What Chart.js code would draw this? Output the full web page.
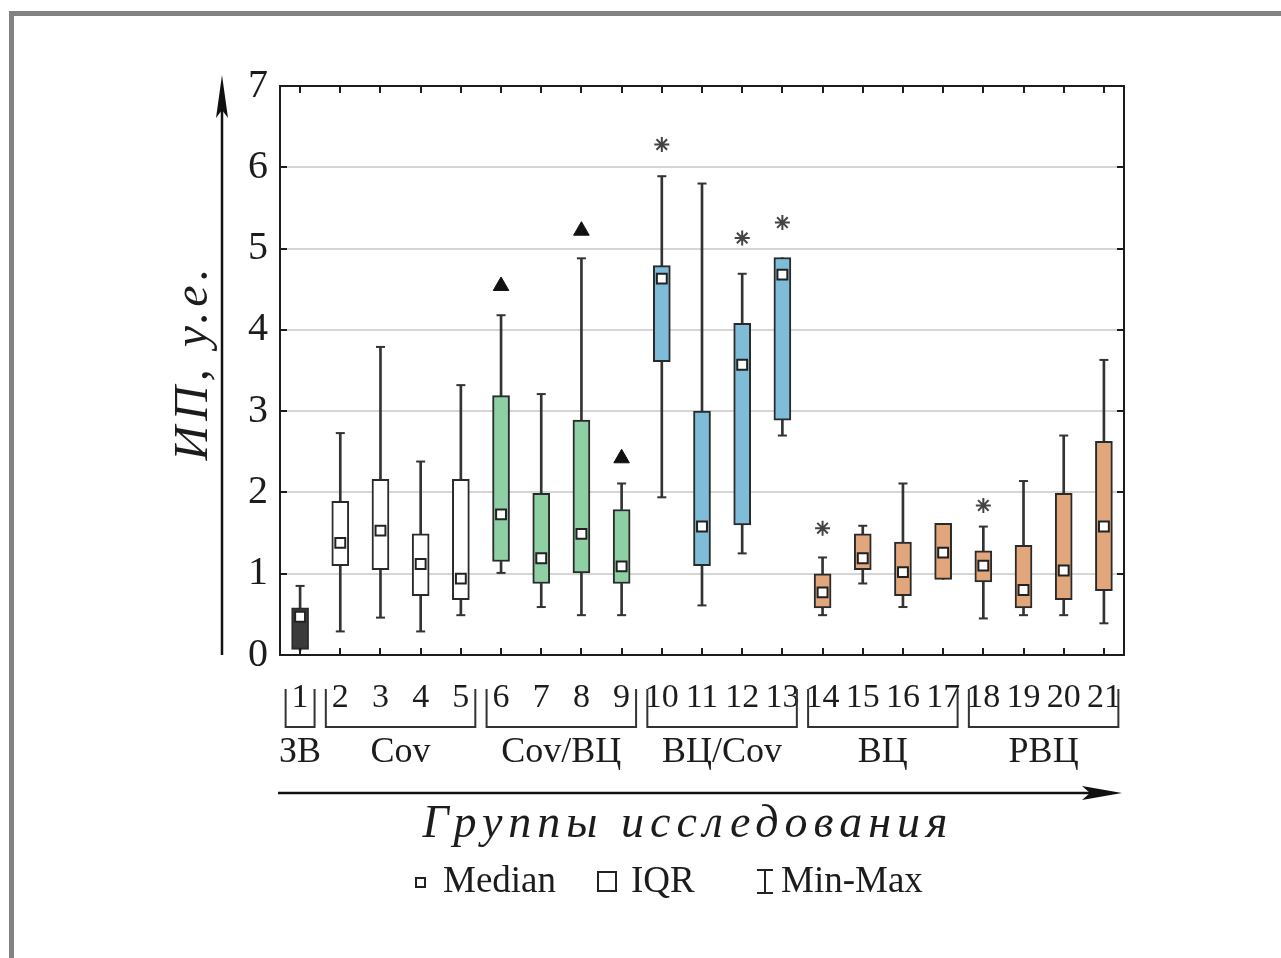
<!DOCTYPE html>
<html><head><meta charset="utf-8">
<script src="https://cdn.jsdelivr.net/npm/chart.js@4.4.1/dist/chart.umd.min.js"></script>
<style>html,body{margin:0;padding:0;background:#fff;}canvas{display:block;}</style>
</head><body>
<canvas id="c" width="1281" height="958"></canvas>
<script>
// ---- data ----
const categories = [1,2,3,4,5,6,7,8,9,10,11,12,13,14,15,16,17,18,19,20,21];
const tickLabels = ['1','2','3','4','5','6','7','8','9','10','11','12','13','14','15','16','17','18','19','20','21'];
const yTickLabels = ['0','1','2','3','4','5','6','7'];
const mins    = [0.05,0.29,0.46,0.29,0.49,1.01,0.59,0.49,0.49,1.94,0.61,1.25,2.70,0.49,0.88,0.59,0.93,0.45,0.49,0.49,0.39];
const q1s     = [0.07,1.10,1.05,0.73,0.68,1.15,0.88,1.01,0.88,3.61,1.10,1.60,2.89,0.58,1.05,0.73,0.93,0.90,0.58,0.68,0.79];
const medians = [0.47,1.38,1.53,1.12,0.94,1.73,1.19,1.49,1.09,4.63,1.58,3.57,4.68,0.77,1.19,1.02,1.26,1.10,0.80,1.04,1.58];
const q3s     = [0.58,1.89,2.16,1.49,2.16,3.19,1.99,2.89,1.79,4.79,3.00,4.08,4.89,1.00,1.49,1.39,1.62,1.28,1.35,1.99,2.63];
const maxs    = [0.85,2.73,3.79,2.38,3.32,4.18,3.21,4.88,2.11,5.89,5.80,4.69,4.89,1.20,1.59,2.11,1.62,1.58,2.14,2.70,3.63];
const starCats = [10,12,13,14,18];
const starVals = [6.28,5.13,5.32,1.56,1.84];
const triCats = [6,8,9];
const triVals = [4.54,5.22,2.42];
const groupNames = ['ЗВ','Cov','Cov/ВЦ','ВЦ/Cov','ВЦ','РВЦ'];
const groupFirst = [1,2,6,10,14,18];
const groupLast  = [1,5,9,13,17,21];
const groupColors = ['#3b3b3b','#ffffff','#8ecfa4','#7ebcd8','#e1a67b','#e1a67b'];
const yTitle = 'ИП, у.е.';
const xTitle = 'Группы исследования';
const legendItems = ['Median','IQR','Min-Max'];

const SERIF = '"Liberation Serif", "DejaVu Serif", serif';
const INK = '#1c1c1c';

const colorOf = c => groupColors[groupFirst.findIndex((f,g)=> c>=f && c<=groupLast[g])];
const boxColors = categories.map(colorOf);

const decor = {
  id: 'decor',
  beforeDraw(chart){
    const ctx = chart.ctx;
    ctx.save();
    ctx.fillStyle = '#fff';
    ctx.fillRect(0,0,chart.width,chart.height);
    ctx.fillStyle = '#828282';
    ctx.fillRect(9,11,5,chart.height-11);
    ctx.fillRect(9,11,chart.width-9,5);
    ctx.restore();
  },
  afterDraw(chart){
    const ctx = chart.ctx, a = chart.chartArea, xs = chart.scales.x, ys = chart.scales.y;
    ctx.save();
    ctx.strokeStyle = INK; ctx.lineWidth = 2;
    ctx.strokeRect(a.left, a.top, a.right-a.left, a.bottom-a.top);
    // inward ticks
    ctx.beginPath();
    categories.forEach(c => {
      const px = Math.round(xs.getPixelForValue(c));
      ctx.moveTo(px, a.bottom); ctx.lineTo(px, a.bottom-7);
      ctx.moveTo(px, a.top); ctx.lineTo(px, a.top+7);
    });
    for (let v=1; v<7; v++){
      const py = Math.round(ys.getPixelForValue(v));
      ctx.moveTo(a.left, py); ctx.lineTo(a.left+7, py);
      ctx.moveTo(a.right, py); ctx.lineTo(a.right-7, py);
    }
    ctx.stroke();
    // group brackets
    ctx.lineWidth = 2; ctx.strokeStyle = '#333';
    const bTop = 689, bBot = 727;
    groupFirst.forEach((f,g) => {
      const l = xs.getPixelForValue(f-0.36), r = xs.getPixelForValue(groupLast[g]+0.36);
      ctx.beginPath();
      ctx.moveTo(l,bTop); ctx.lineTo(l,bBot); ctx.lineTo(r,bBot); ctx.lineTo(r,bTop);
      ctx.stroke();
    });
    // group names
    ctx.fillStyle = INK; ctx.font = '36px ' + SERIF; ctx.textAlign = 'center'; ctx.textBaseline = 'middle';
    groupFirst.forEach((f,g) => {
      ctx.fillText(groupNames[g], xs.getPixelForValue((f+groupLast[g])/2), 753);
    });
    // y arrow
    ctx.strokeStyle = '#111'; ctx.fillStyle = '#111'; ctx.lineWidth = 2.5;
    const ax = 222;
    ctx.beginPath(); ctx.moveTo(ax, a.bottom); ctx.lineTo(ax, 105); ctx.stroke();
    ctx.beginPath(); ctx.moveTo(ax,75); ctx.lineTo(ax-6,118); ctx.lineTo(ax,110); ctx.lineTo(ax+6,118); ctx.closePath(); ctx.fill();
    // x arrow
    const ay = 793;
    ctx.beginPath(); ctx.moveTo(278, ay); ctx.lineTo(1095, ay); ctx.stroke();
    ctx.beginPath(); ctx.moveTo(1122,ay); ctx.lineTo(1082,ay-7); ctx.lineTo(1090,ay); ctx.lineTo(1082,ay+7); ctx.closePath(); ctx.fill();
    // titles
    ctx.fillStyle = INK;
    ctx.font = 'italic 48px ' + SERIF;
    ctx.letterSpacing = '5px';
    ctx.save();
    ctx.translate(194, 362); ctx.rotate(-Math.PI/2);
    ctx.textAlign = 'center'; ctx.textBaseline = 'middle';
    ctx.fillText(yTitle, 0, 0);
    ctx.restore();
    ctx.font = 'italic 46px ' + SERIF;
    ctx.letterSpacing = '6px';
    ctx.textAlign = 'center'; ctx.textBaseline = 'middle';
    ctx.fillText(xTitle, 688, 825);
    ctx.letterSpacing = '0px';
    // legend
    const ly = 882;
    ctx.font = '37px ' + SERIF; ctx.textAlign = 'left'; ctx.textBaseline = 'middle';
    ctx.lineWidth = 2; ctx.strokeStyle = '#222';
    ctx.fillStyle = '#fff'; ctx.fillRect(416, ly-4, 9, 9); ctx.strokeRect(416, ly-4, 9, 9);
    ctx.fillStyle = INK; ctx.fillText(legendItems[0], 443, ly);
    ctx.strokeRect(598, ly-10, 18, 19);
    ctx.fillText(legendItems[1], 631, ly);
    ctx.beginPath();
    ctx.moveTo(757, ly-12); ctx.lineTo(773, ly-12);
    ctx.moveTo(765, ly-12); ctx.lineTo(765, ly+11);
    ctx.moveTo(757, ly+11); ctx.lineTo(773, ly+11);
    ctx.stroke();
    ctx.fillText(legendItems[2], 781, ly);
    ctx.restore();
  }
};

const whiskerStyle = { type:'bar', grouped:false, barThickness:2, backgroundColor:'#333', borderWidth:0, order:5 };
const capStyle = { type:'scatter', pointStyle:'line', pointRadius:4.5, borderColor:'#333', borderWidth:2, order:4 };

new Chart(document.getElementById('c'), {
  type: 'bar',
  data: {
    datasets: [
      Object.assign({ label:'low', data: categories.map((c,i)=>({x:c, y:[mins[i], q1s[i]]})) }, whiskerStyle),
      Object.assign({ label:'high', data: categories.map((c,i)=>({x:c, y:[q3s[i], maxs[i]]})) }, whiskerStyle),
      Object.assign({ label:'minCap', data: categories.map((c,i)=>({x:c, y: q1s[i]-mins[i] > 0.05 ? mins[i] : null})) }, capStyle),
      Object.assign({ label:'maxCap', data: categories.map((c,i)=>({x:c, y: maxs[i]-q3s[i] > 0.05 ? maxs[i] : null})) }, capStyle),
      { type:'bar', label:'IQR', grouped:false, data: categories.map((c,i)=>({x:c, y:[q1s[i], q3s[i]]})),
        backgroundColor: boxColors, borderColor:'#2a2a2a', borderWidth:2, borderSkipped:false, barThickness:17, order:3 },
      { type:'scatter', label:'Median', data: categories.map((c,i)=>({x:c, y:medians[i]})),
        pointStyle:'rect', pointRadius:7, backgroundColor:'#fff', borderColor:'#222', borderWidth:2, order:1 },
      { type:'scatter', label:'star', data: starCats.map((c,i)=>({x:c, y:starVals[i]})),
        pointStyle:'star', pointRadius:7.5, borderColor:'#444', borderWidth:2, order:0 },
      { type:'scatter', label:'triangle', data: triCats.map((c,i)=>({x:c, y:triVals[i]})),
        pointStyle:'triangle', pointRadius:9, backgroundColor:'#111', borderColor:'#111', borderWidth:1, order:0 }
    ]
  },
  options: {
    responsive:false, animation:false, devicePixelRatio:1,
    events: [],
    layout: { padding: { left:165, right:157, top:86, bottom:243 } },
    plugins: { legend:{display:false}, tooltip:{enabled:false}, title:{display:false} },
    scales: {
      x: {
        type:'linear', min:0.5, max:21.5, offset:false,
        afterBuildTicks: s => { s.ticks = categories.map(v => ({value:v})); },
        afterFit: s => { s.height = 60; },
        grid: { display:false, drawTicks:false },
        border: { display:false },
        ticks: { autoSkip:false, maxRotation:0, padding:23, color:INK,
          font:{ family: SERIF, size:34 },
          callback: v => tickLabels[categories.indexOf(v)] }
      },
      y: {
        min:0, max:7,
        afterFit: s => { s.width = 115; },
        grid: { drawTicks:false, lineWidth:2,
          color: c => (c.tick.value === 0 || c.tick.value === 7) ? 'rgba(0,0,0,0)' : '#d6d6d6' },
        border: { display:false },
        ticks: { stepSize:1, padding:12, color:INK, font:{ family: SERIF, size:40 },
          callback: v => yTickLabels[v] }
      }
    }
  },
  plugins: [decor]
});
</script>
</body></html>
